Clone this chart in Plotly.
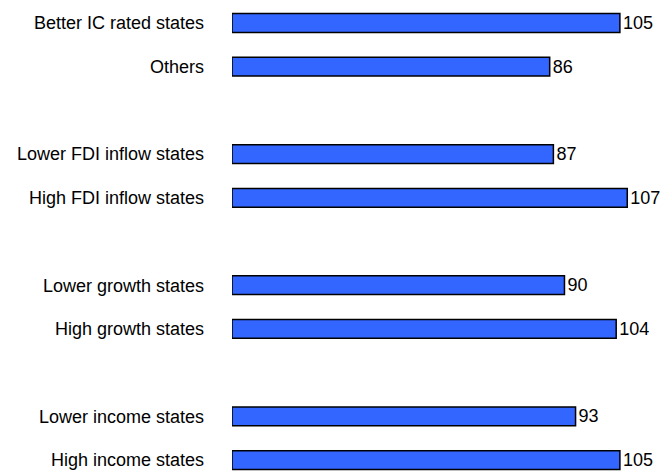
import plotly.graph_objects as go

categories = [
    "Better IC rated states", "Others",
    "Lower FDI inflow states", "High FDI inflow states",
    "Lower growth states", "High growth states",
    "Lower income states", "High income states",
]
values = [105, 86, 87, 107, 90, 104, 93, 105]
slot_order = [
    "Better IC rated states", "Others", " ",
    "Lower FDI inflow states", "High FDI inflow states", "  ",
    "Lower growth states", "High growth states", "   ",
    "Lower income states", "High income states",
]

FONT = "Liberation Sans, Arial, sans-serif"

fig = go.Figure(go.Bar(
    x=values, y=categories, orientation="h",
    marker=dict(color="#3366FF", line=dict(color="#000000", width=1.5)),
    width=0.43,
    text=[str(v) for v in values], textposition="outside",
    textfont=dict(family=FONT, size=18, color="#000000"),
    constraintext="none",
    cliponaxis=False,
))

fig.update_layout(
    width=662, height=472,
    margin=dict(l=232, r=0, t=0, b=0, autoexpand=False),
    paper_bgcolor="white", plot_bgcolor="white",
    font=dict(family=FONT, size=18, color="#000000"),
    showlegend=False,
    xaxis=dict(range=[0, 116.4], visible=False, showgrid=False, zeroline=False,
               automargin=False),
    yaxis=dict(
        type="category", categoryorder="array", categoryarray=slot_order,
        range=[10.274, -0.526], showgrid=False, zeroline=False, showline=False,
        ticks="", ticklabelstandoff=27, automargin=False,
        tickfont=dict(family=FONT, size=18, color="#000000"),
    ),
)

fig.write_html("out.html", config={"displayModeBar": False},
               post_script="document.body.style.margin='0';")
